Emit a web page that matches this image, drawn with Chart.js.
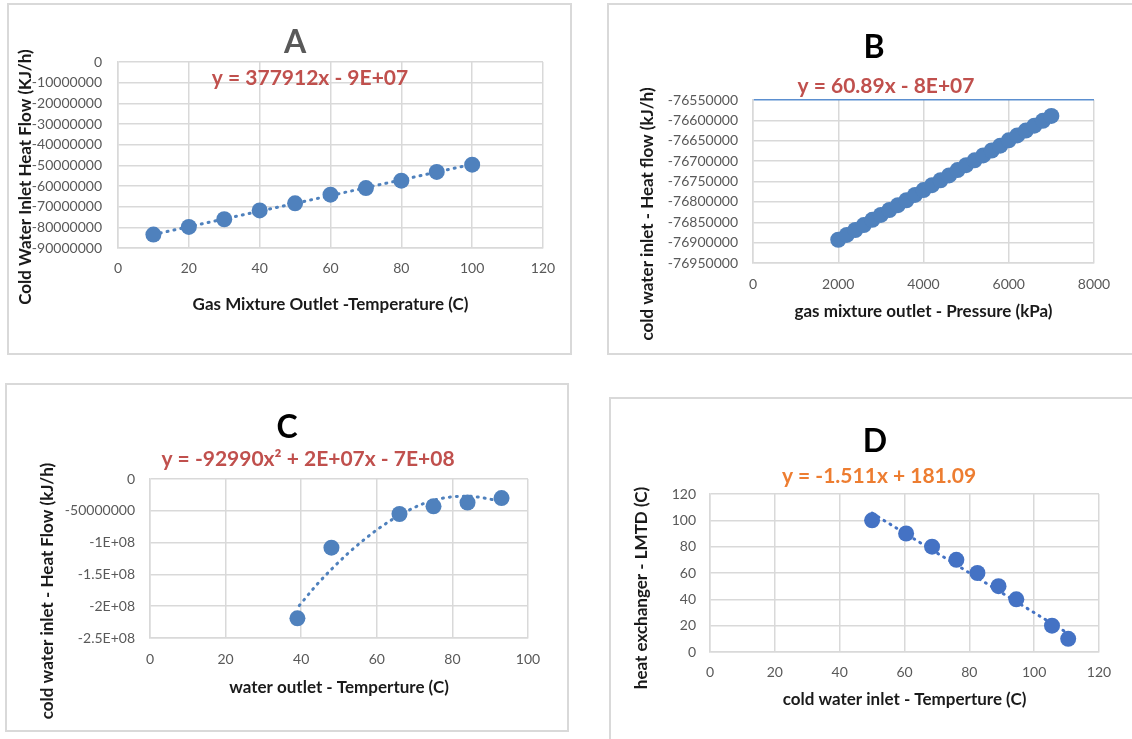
<!DOCTYPE html>
<html>
<head>
<meta charset="utf-8">
<script src="https://cdn.jsdelivr.net/npm/chart.js@4.4.0/dist/chart.umd.min.js"></script>
<style>
    body { margin: 0; background: #fff; overflow: hidden; width: 1132px; height: 739px; position: relative; }
    .BOX_Panel { position: absolute; border: 2px solid #d9d9d9; }
    .BOX_Panel canvas { display: block; }
</style>
</head>
<body>
<div class="BOX_Panel" style="left:7px;top:3px;"><canvas id="CHART_A" width="561" height="348"></canvas></div>
<div class="BOX_Panel" style="left:607px;top:3px;"><canvas id="CHART_B" width="530" height="348"></canvas></div>
<div class="BOX_Panel" style="left:5px;top:383px;"><canvas id="CHART_C" width="560" height="345"></canvas></div>
<div class="BOX_Panel" style="left:609px;top:397px;"><canvas id="CHART_D" width="530" height="345"></canvas></div>

<script>
// A - gas mixture outlet temperature vs cold water inlet heat flow
const aTemperature = [10, 20, 30, 40, 50, 60, 70, 80, 90, 100];
const aHeatFlow = [-83500000, -79800000, -76100000, -71800000, -68400000, -64200000, -61000000, -57400000, -53200000, -49700000];
const aTrendX = [10, 100];
const aTrendY = [-83500000, -49500000];

// B - gas mixture outlet pressure vs cold water inlet heat flow
const bPressure = [2000, 2200, 2400, 2600, 2800, 3000, 3200, 3400, 3600, 3800, 4000, 4200, 4400,
    4600, 4800, 5000, 5200, 5400, 5600, 5800, 6000, 6200, 6400, 6600, 6800, 7000];
const bHeatFlow = [-76893000, -76881000, -76869000, -76857000, -76844000, -76832000, -76820000, -76808000,
    -76796000, -76783000, -76771000, -76759000, -76747000, -76735000, -76722000, -76710000, -76698000,
    -76686000, -76674000, -76662000, -76649000, -76637000, -76625000, -76613000, -76601000, -76589000];

// C - water outlet temperature vs cold water inlet heat flow
const cTemperature = [39, 48, 66, 75, 84, 93];
const cHeatFlow = [-219000000, -108000000, -55000000, -43000000, -37000000, -30000000];
const cTrendX = [39.5, 44, 48, 52, 56, 60, 64, 68, 72, 76, 80, 84, 88, 91];
const cTrendY = [-199000000, -167000000, -142000000, -119000000, -98500000, -80000000, -64000000,
    -50500000, -39500000, -32000000, -28000000, -27000000, -29500000, -33000000];
const cYTickValues = [0, -50000000, -100000000, -150000000, -200000000, -250000000];
const cYTickLabels = ['0', '-50000000', '-1E+08', '-1.5E+08', '-2E+08', '-2.5E+08'];

// D - cold water inlet temperature vs LMTD
const dTemperature = [50, 60.5, 68.5, 76, 82.5, 89, 94.5, 105.5, 110.5];
const dLMTD = [100, 90, 80, 70, 60, 50, 40, 20, 10];
const dTrendX = [50, 110.5];
const dTrendY = [105.5, 14];

const GRID_COLOR = '#d9d9d9';
const TICK_COLOR = '#595959';

Chart.defaults.font.family = 'Lato';

const panelText = {
    id: 'panelText',
    afterDraw(chart, args, opts) {
        if (!opts.title) return;
        let ctx = chart.ctx;
        ctx.save();
        ctx.textAlign = 'center';
        ctx.textBaseline = 'middle';

        ctx.fillStyle = opts.titleColor;
        ctx.font = 'bold 32px Lato';
        ctx.fillText(opts.title, opts.titleX, opts.titleY);

        ctx.fillStyle = opts.eqColor;
        ctx.font = 'bold 21px Lato';
        ctx.fillText(opts.equation, opts.eqX, opts.eqY);

        ctx.translate(opts.yTitleX, opts.yTitleY);
        ctx.rotate(-Math.PI / 2);
        ctx.fillStyle = '#1a1a1a';
        ctx.font = 'bold 17px Lato';
        ctx.fillText(opts.yTitle, 0, 0);
        ctx.restore();
    }
};
Chart.register(panelText);

function toPoints(xs, ys) {
    let points = [];
    for (let i = 0; i < xs.length; i++) {
        points.push({ x: xs[i], y: ys[i] });
    }
    return points;
}

function pointSet(xs, ys, color) {
    return {
        data: toPoints(xs, ys),
        showLine: false,
        pointRadius: 8,
        pointBackgroundColor: color,
        pointBorderWidth: 0,
        order: 1
    };
}

function trendSet(xs, ys, color, curved) {
    return {
        data: toPoints(xs, ys),
        showLine: true,
        borderColor: color,
        borderWidth: 3,
        borderDash: [1, 6],
        borderCapStyle: 'round',
        pointRadius: 0,
        cubicInterpolationMode: curved ? 'monotone' : 'default',
        order: 2
    };
}

function createPanel(canvasId, p) {
    let ctx = document.getElementById(canvasId).getContext('2d');
    return new Chart(ctx, {
        type: 'scatter',
        data: { datasets: p.datasets },
        options: {
            responsive: false,
            animation: false,
            events: [],
            layout: { padding: { top: p.padTop, right: p.padRight, bottom: p.padBottom, left: 0 } },
            plugins: {
                legend: { display: false },
                tooltip: { enabled: false },
                panelText: p.text
            },
            scales: {
                x: {
                    type: 'linear',
                    min: p.xMin,
                    max: p.xMax,
                    ticks: {
                        stepSize: p.xStep,
                        padding: p.xTickPad,
                        color: TICK_COLOR,
                        font: { size: 14 },
                        autoSkip: false,
                        maxRotation: 0,
                        callback: (v) => String(v)
                    },
                    grid: { color: GRID_COLOR, lineWidth: 1.5, drawTicks: false },
                    border: { color: GRID_COLOR, width: 1.5 },
                    title: {
                        display: true,
                        text: p.xTitle,
                        color: '#1a1a1a',
                        font: { size: 17, weight: 'bold' },
                        padding: { top: 4, bottom: 4 }
                    },
                    afterFit: (scale) => { scale.height = p.xHeight; }
                },
                y: {
                    type: 'linear',
                    min: p.yMin,
                    max: p.yMax,
                    ticks: {
                        stepSize: p.yStep,
                        padding: p.yTickPad,
                        color: TICK_COLOR,
                        font: { size: 14 },
                        autoSkip: false,
                        callback: p.yLabel || ((v) => String(v))
                    },
                    grid: { color: p.yGridColor || GRID_COLOR, lineWidth: 1.5, drawTicks: false },
                    border: { color: GRID_COLOR, width: 1.5 },
                    afterFit: (scale) => { scale.width = p.yWidth; }
                }
            }
        }
    });
}

createPanel('CHART_A', {
    datasets: [
        pointSet(aTemperature, aHeatFlow, '#4f81bd'),
        trendSet(aTrendX, aTrendY, '#4f81bd', false)
    ],
    padTop: 57, padRight: 27, padBottom: 34,
    xMin: 0, xMax: 120, xStep: 20, xTickPad: 12, xHeight: 71,
    xTitle: 'Gas Mixture Outlet -Temperature (C)',
    yMin: -90000000, yMax: 0, yStep: 10000000, yTickPad: 16, yWidth: 109,
    text: {
        title: 'A', titleColor: '#595959', titleX: 286, titleY: 38,
        equation: 'y = 377912x - 9E+07', eqColor: '#c0504d', eqX: 301, eqY: 73,
        yTitle: 'Cold Water Inlet Heat Flow (KJ/h)', yTitleX: 17, yTitleY: 172
    }
});

createPanel('CHART_B', {
    datasets: [
        pointSet(bPressure, bHeatFlow, '#4f81bd')
    ],
    padTop: 95, padRight: 45, padBottom: 27,
    xMin: 0, xMax: 8000, xStep: 2000, xTickPad: 13, xHeight: 63,
    xTitle: 'gas mixture outlet - Pressure (kPa)',
    yMin: -76950000, yMax: -76550000, yStep: 50000, yTickPad: 15, yWidth: 144,
    yGridColor: (c) => (c.tick && c.tick.value === -76550000 ? '#5b8fd0' : GRID_COLOR),
    text: {
        title: 'B', titleColor: '#000000', titleX: 265, titleY: 43,
        equation: 'y = 60.89x - 8E+07', eqColor: '#c0504d', eqX: 277, eqY: 81,
        yTitle: 'cold water inlet - Heat flow (kJ/h)', yTitleX: 39, yTitleY: 209
    }
});

createPanel('CHART_C', {
    datasets: [
        pointSet(cTemperature, cHeatFlow, '#4f81bd'),
        trendSet(cTrendX, cTrendY, '#4f81bd', true)
    ],
    padTop: 94, padRight: 39, padBottom: 28,
    xMin: 0, xMax: 100, xStep: 20, xTickPad: 13, xHeight: 64,
    xTitle: 'water outlet - Temperture (C)',
    yMin: -250000000, yMax: 0, yStep: 50000000, yTickPad: 15, yWidth: 143,
    yLabel: (v) => {
        let i = cYTickValues.indexOf(v);
        return i >= 0 ? cYTickLabels[i] : String(v);
    },
    text: {
        title: 'C', titleColor: '#000000', titleX: 280, titleY: 43,
        equation: 'y = -92990x\u00B2 + 2E+07x - 7E+08', eqColor: '#c0504d', eqX: 301, eqY: 74,
        yTitle: 'cold water inlet - Heat Flow (kJ/h)', yTitleX: 41, yTitleY: 206
    }
});

createPanel('CHART_D', {
    datasets: [
        pointSet(dTemperature, dLMTD, '#4472c4'),
        trendSet(dTrendX, dTrendY, '#4472c4', false)
    ],
    padTop: 95, padRight: 42, padBottom: 30,
    xMin: 0, xMax: 120, xStep: 20, xTickPad: 12, xHeight: 62,
    xTitle: 'cold water inlet - Temperture (C)',
    yMin: 0, yMax: 120, yStep: 20, yTickPad: 14, yWidth: 99,
    text: {
        title: 'D', titleColor: '#000000', titleX: 264, titleY: 43,
        equation: 'y = -1.511x + 181.09', eqColor: '#ed7d31', eqX: 268, eqY: 77,
        yTitle: 'heat exchanger - LMTD (C)', yTitleX: 31, yTitleY: 189
    }
});
</script>
</body>
</html>
